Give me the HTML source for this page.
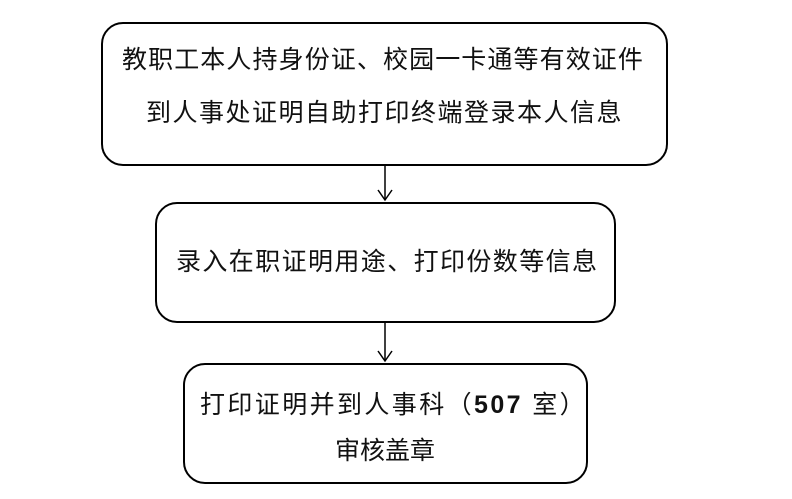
<!DOCTYPE html>
<html><head><meta charset="utf-8"><style>
body{margin:0;width:792px;height:499px;background:#fff;position:relative;overflow:hidden;font-family:"Liberation Sans","Noto Sans CJK SC",sans-serif;color:#111}
.b{position:absolute;border:2px solid #000;border-radius:22px;box-sizing:border-box}
.t{position:absolute;white-space:nowrap;font-size:25px;line-height:30px}
</style></head><body>
<div class="b" style="left:101px;top:22px;width:567px;height:144px"></div>
<div class="b" style="left:155px;top:202px;width:461px;height:121px"></div>
<div class="b" style="left:183px;top:363px;width:405px;height:121px"></div>
<div class="t" style="left:122px;top:45px;letter-spacing:1.1px">教职工本人持身份证、校园一卡通等有效证件</div>
<div class="t" style="left:146px;top:98px;letter-spacing:1.5px">到人事处证明自助打印终端登录本人信息</div>
<div class="t" style="left:176px;top:247px;letter-spacing:1.4px">录入在职证明用途、打印份数等信息</div>
<div class="t" style="left:200px;top:390px;letter-spacing:2.4px">打印证明并到人事科（<b>507</b> 室）</div>
<div class="t" style="left:335px;top:436px;letter-spacing:0px">审核盖章</div>
<svg width="792" height="499" style="position:absolute;left:0;top:0">
<g stroke="#000" stroke-width="1.5" fill="none">
<line x1="385" y1="166" x2="385" y2="200"/><polyline points="378,190 385,200 392,190"/>
<line x1="385" y1="323" x2="385" y2="361"/><polyline points="378,351 385,361 392,351"/>
</g></svg>
</body></html>
